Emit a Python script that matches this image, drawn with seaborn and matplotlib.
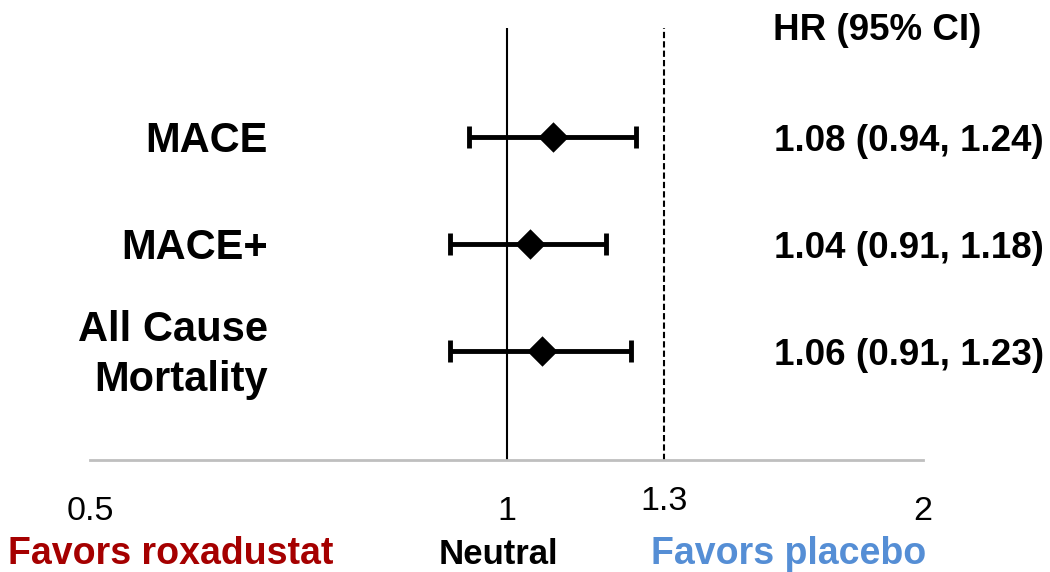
import seaborn as sns
import matplotlib.pyplot as plt
import matplotlib.transforms as mtransforms
import pandas as pd

# forest plot data
outcomes = ["MACE", "MACE+", "All Cause\nMortality"]
hr = [1.08, 1.04, 1.06]
ci_low = [0.94, 0.91, 0.91]
ci_high = [1.24, 1.18, 1.23]
hr_text = ["1.08 (0.94, 1.24)", "1.04 (0.91, 1.18)", "1.06 (0.91, 1.23)"]
tick_vals = [0.5, 1, 2]
tick_labels = ["0.5", "1", "2"]
margin = 1.3
margin_label = "1.3"
favor_labels = ["Favors roxadustat", "Neutral", "Favors placebo"]
favor_colors = ["#A50000", "#000000", "#558ED5"]

df = pd.DataFrame({"outcome": outcomes, "hr": hr, "lo": ci_low, "hi": ci_high})
df["row"] = range(len(df))

sns.set_style("white")
plt.rcParams["font.family"] = ["Liberation Sans", "DejaVu Sans"]
plt.rcParams["text.color"] = "black"
plt.rcParams["xtick.color"] = "black"

fig = plt.figure(figsize=(10.5, 5.72), dpi=100)
ax = fig.add_axes([90 / 1050, 1 - 460 / 572, (923 - 90) / 1050, (460 - 28) / 572])

# CI whiskers
ax.errorbar(df["hr"], df["row"], xerr=[df["hr"] - df["lo"], df["hi"] - df["hr"]],
            fmt="none", ecolor="black", elinewidth=3.5, capsize=8, capthick=3.5, zorder=3)
# point estimates
sns.scatterplot(data=df, x="hr", y="row", marker="D", s=240, color="black",
                edgecolor="black", linewidth=0, zorder=4, ax=ax, legend=False)

# reference lines
ax.axvline(1, color="black", lw=1.5, zorder=2)
ax.axvline(margin, color="black", lw=1.5, ls=(0, (3, 1.5)), zorder=2)

ax.set_xscale("log")
ax.set_xlim(0.5, 2)
ax.set_ylim(len(df) - 1 + 1.02, -1.02)
ax.set_xticks(tick_vals)
ax.set_xticklabels(tick_labels)
ax.minorticks_off()
ax.set_yticks([])
ax.set(xlabel="", ylabel="")
ax.tick_params(axis="x", length=0, pad=26, labelsize=24.5)

for s in ["top", "right", "left"]:
    ax.spines[s].set_visible(False)
ax.spines["bottom"].set_color("#BFBFBF")
ax.spines["bottom"].set_linewidth(2)

# 1.3 label sits a bit higher than the others
blend = mtransforms.blended_transform_factory(ax.transData, fig.transFigure)
ax.text(margin, 1 - 502 / 572, margin_label, transform=blend, ha="center", va="center",
        fontsize=24.5)

# row labels and HR text (nudged down a few px to line up with the bars)
row_tr = mtransforms.blended_transform_factory(fig.transFigure, ax.transData) + \
    mtransforms.ScaledTranslation(0, -3 / 72, fig.dpi_scale_trans)
for i, row in df.iterrows():
    ax.text(268 / 1050, row["row"], row["outcome"], transform=row_tr,
            ha="right", va="center", fontsize=30, fontweight="bold", linespacing=1.3)
    ax.text(774 / 1050, row["row"], hr_text[i], transform=row_tr,
            ha="left", va="center", fontsize=26.5, fontweight="bold")

fig.text(773 / 1050, 1 - 31 / 572, "HR (95% CI)", ha="left", va="center",
         fontsize=26.5, fontweight="bold")

# favors labels
for x, lab, col, fs in zip([171, 498, 789], favor_labels, favor_colors, [27, 25, 27]):
    fig.text(x / 1050, 1 - 554 / 572, lab, ha="center", va="center", fontsize=fs,
             fontweight="bold", color=col)

fig.savefig("out.png", dpi=100)
